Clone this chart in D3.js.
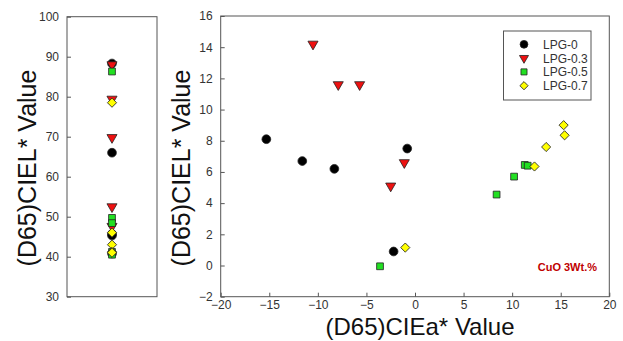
<!DOCTYPE html>
<html>
<head>
<meta charset="utf-8">
<script src="https://cdn.jsdelivr.net/npm/d3@7"></script>
<style>
  body { margin: 0; background: #fff; }
  svg { display: block; font-family: "Liberation Sans", Arial, sans-serif; }
</style>
</head>
<body>
<div id="chart"></div>
<script>
// series names, as in the legend
const seriesNames = ["LPG-0", "LPG-0.3", "LPG-0.5", "LPG-0.7"];

// a* values (right panel x)
const aValues0 = [-15.3, -11.6, -8.3, -0.8, -2.2];
const aValues03 = [-10.5, -7.9, -5.7, -1.1, -2.5];
const aValues05 = [-3.6, 8.4, 10.2, 11.3, 11.6];
const aValues07 = [-1.0, 12.3, 13.5, 15.3, 15.4];

// L* values shown against a* (right panel y)
const bValues0 = [8.1, 6.7, 6.2, 7.5, 0.9];
const bValues03 = [14.2, 11.6, 11.6, 6.6, 5.1];
const bValues05 = [-0.05, 4.55, 5.7, 6.45, 6.4];
const bValues07 = [1.15, 6.35, 7.6, 9.0, 8.35];

// L* values (left panel)
const lValues0 = [88.3, 66.0, 45.7, 45.3, 40.8];
const lValues03 = [88.0, 79.4, 69.8, 52.5, 47.6];
const lValues05 = [86.3, 49.7, 48.4, 41.2, 40.5];
const lValues07 = [78.5, 46.0, 43.0, 41.2, 41.0];

const lTicks = [30, 40, 50, 60, 70, 80, 90, 100];
const aTicks = [-20, -15, -10, -5, 0, 5, 10, 15, 20];
const bTicks = [-2, 0, 2, 4, 6, 8, 10, 12, 14, 16];

const W = 623, H = 341;

const styles = [
  { fill: "#000000", type: d3.symbolCircle, size: 60, rot: 0 },
  { fill: "#ee1111", type: d3.symbolTriangle, size: 44, rot: 180 },
  { fill: "#22e022", type: d3.symbolSquare, size: 46, rot: 0 },
  { fill: "#ffff00", type: d3.symbolSquare, size: 42, rot: 45 }
];

const aSets = [aValues0, aValues03, aValues05, aValues07];
const bSets = [bValues0, bValues03, bValues05, bValues07];
const lSets = [lValues0, lValues03, lValues05, lValues07];

const svg = d3.select("#chart").append("svg")
  .attr("width", W).attr("height", H);

const axisColor = "#555";
const textColor = "#333";

// ---------- left panel ----------
const lx = d3.scalePoint().domain(["L"]).range([67, 157]).padding(0.5);
const ly = d3.scaleLinear().domain([30, 100]).range([296.7, 16.7]);

svg.append("rect")
  .attr("x", 67).attr("y", 16.7).attr("width", 90).attr("height", 280)
  .attr("fill", "none").attr("stroke", axisColor).attr("stroke-width", 1);

const lAxis = svg.append("g").attr("transform", "translate(67,0)")
  .call(d3.axisLeft(ly).tickValues(lTicks).tickSizeInner(-4).tickSizeOuter(0).tickPadding(8));
lAxis.select(".domain").remove();
lAxis.selectAll("line").attr("stroke", axisColor);
lAxis.selectAll("text").attr("font-size", 12).attr("fill", textColor)
  .attr("font-family", "Liberation Sans, Arial, sans-serif");

lSets.forEach((vals, i) => {
  const s = styles[i];
  svg.append("g").selectAll("path")
    .data(vals)
    .join("path")
    .attr("d", d3.symbol().type(s.type).size(s.size))
    .attr("transform", d => `translate(${lx("L")},${ly(d)}) rotate(${s.rot})`)
    .attr("fill", s.fill)
    .attr("stroke", "#222")
    .attr("stroke-width", 0.8);
});

svg.append("text")
  .attr("transform", "translate(36,168) rotate(-90)")
  .attr("text-anchor", "middle")
  .attr("font-size", 25)
  .attr("fill", "#111")
  .text("(D65)CIEL* Value");

// ---------- right panel ----------
const x = d3.scaleLinear().domain([-20, 20]).range([220.7, 609.3]);
const y = d3.scaleLinear().domain([-2, 16]).range([296.7, 16]);

svg.append("rect")
  .attr("x", x(-20)).attr("y", y(16))
  .attr("width", x(20) - x(-20)).attr("height", y(-2) - y(16))
  .attr("fill", "none").attr("stroke", axisColor).attr("stroke-width", 1);

const yAxis = svg.append("g").attr("transform", `translate(${x(-20)},0)`)
  .call(d3.axisLeft(y).tickValues(bTicks).tickSizeInner(-4).tickSizeOuter(0).tickPadding(8));
yAxis.select(".domain").remove();
yAxis.selectAll("line").attr("stroke", axisColor);
yAxis.selectAll("text").attr("font-size", 12).attr("fill", textColor)
  .attr("font-family", "Liberation Sans, Arial, sans-serif");

const xAxis = svg.append("g").attr("transform", `translate(0,${y(-2)})`)
  .call(d3.axisBottom(x).tickValues(aTicks).tickSizeInner(-4).tickSizeOuter(0).tickPadding(4));
xAxis.select(".domain").remove();
xAxis.selectAll("line").attr("stroke", axisColor);
xAxis.selectAll("text").attr("font-size", 12).attr("fill", textColor)
  .attr("font-family", "Liberation Sans, Arial, sans-serif");

aSets.forEach((vals, i) => {
  const s = styles[i];
  const pts = vals.map((a, j) => [a, bSets[i][j]]);
  svg.append("g").selectAll("path")
    .data(pts)
    .join("path")
    .attr("d", d3.symbol().type(s.type).size(s.size))
    .attr("transform", d => `translate(${x(d[0])},${y(d[1])}) rotate(${s.rot})`)
    .attr("fill", s.fill)
    .attr("stroke", "#222")
    .attr("stroke-width", 0.8);
});

svg.append("text")
  .attr("transform", "translate(190,168) rotate(-90)")
  .attr("text-anchor", "middle")
  .attr("font-size", 25)
  .attr("fill", "#111")
  .text("(D65)CIEL* Value");

svg.append("text")
  .attr("x", 420).attr("y", 335)
  .attr("text-anchor", "middle")
  .attr("font-size", 24)
  .attr("fill", "#111")
  .text("(D65)CIEa* Value");

svg.append("text")
  .attr("x", 597).attr("y", 271)
  .attr("text-anchor", "end")
  .attr("font-size", 11)
  .attr("font-weight", "bold")
  .attr("fill", "#c00000")
  .text("CuO 3Wt.%");

// legend
const legend = svg.append("g");
legend.append("rect")
  .attr("x", 503.5).attr("y", 31).attr("width", 87.5).attr("height", 69)
  .attr("fill", "#fff").attr("stroke", axisColor).attr("stroke-width", 1);

const rows = legend.selectAll("g.row")
  .data(seriesNames)
  .join("g")
  .attr("class", "row")
  .attr("transform", (d, i) => `translate(524,${44.3 + i * 13.8})`);

rows.append("path")
  .attr("d", (d, i) => d3.symbol().type(styles[i].type).size(styles[i].size * 0.8)())
  .attr("transform", (d, i) => `rotate(${styles[i].rot})`)
  .attr("fill", (d, i) => styles[i].fill)
  .attr("stroke", "#222")
  .attr("stroke-width", 0.8);

rows.append("text")
  .attr("x", 19).attr("y", 4.5)
  .attr("font-size", 12)
  .attr("fill", textColor)
  .text(d => d);
</script>
</body>
</html>
